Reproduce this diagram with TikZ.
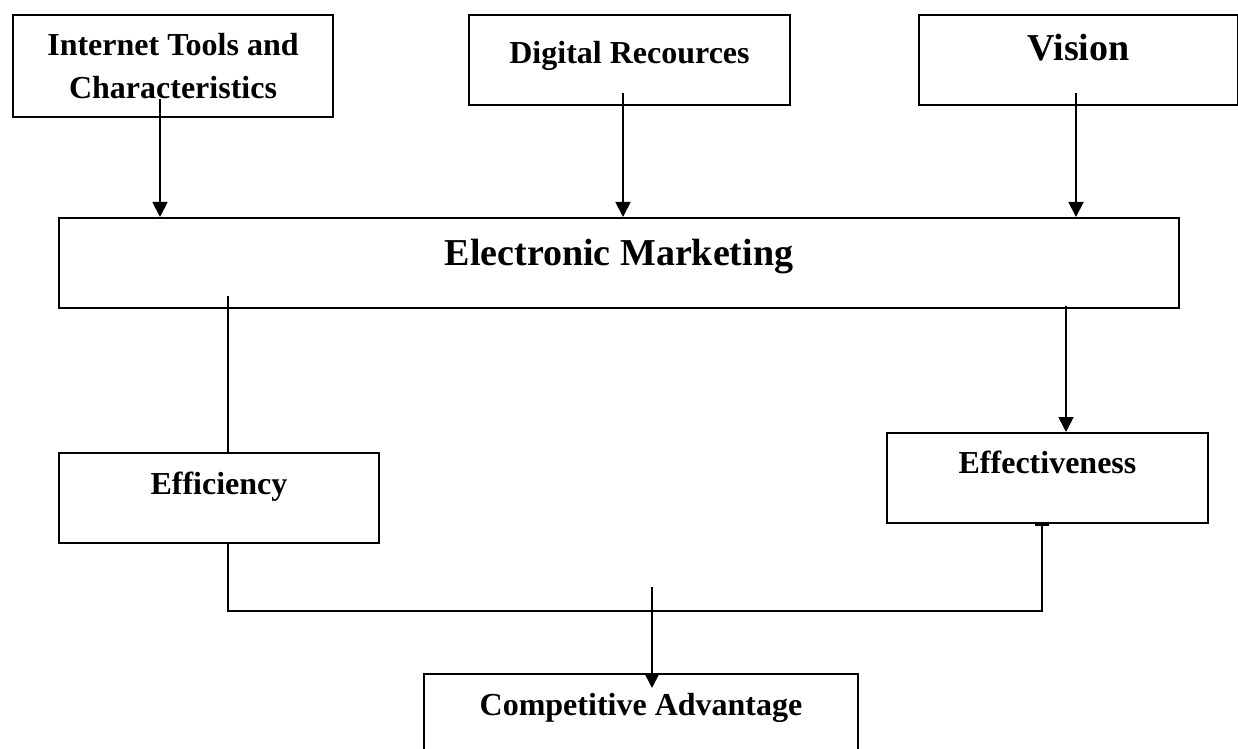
\documentclass[tikz,border=0pt]{standalone}
\usepackage{fontspec}
\setmainfont{Liberation Serif}
\usetikzlibrary{positioning,calc,arrows.meta}

\begin{document}
\begin{tikzpicture}[x=0.5pt,y=-0.5pt,
    box/.style={draw, line width=1pt, anchor=north west, inner sep=0pt,
        font=\bfseries\fontsize{16}{21.5}\selectfont},
    bigbox/.style={box, font=\bfseries\fontsize{19}{23}\selectfont},
    arr/.style={line width=0.9pt, -{Triangle[width=7.5pt,length=7.5pt]}},
    link/.style={line width=0.9pt}]
    \useasboundingbox (0,0) rectangle (1238,749);

    % Top row
    \node[box, align=center, minimum width=160pt, minimum height=51pt] (itc) at (12,14)
        {Internet Tools and\\Characteristics};
    \node[box, minimum width=160.5pt, text height=24.5pt, text depth=20.5pt] (dr) at (468,14)
        {Digital Recources};
    \node[bigbox, minimum width=159.5pt, text height=23pt, text depth=22pt] (vis) at (918,14)
        {Vision};

    % Middle
    \node[bigbox, minimum width=560pt, text height=23.5pt, text depth=21.5pt] (em) at (58,217)
        {Electronic Marketing};
    \node[box, minimum width=160pt, text height=20.5pt, text depth=24.5pt] (eff) at (58,452)
        {Efficiency};
    \node[box, minimum width=160.5pt, text height=20pt, text depth=25pt] (efv) at (886,432)
        {Effectiveness};

    % Bottom
    \node[box, minimum width=217pt, text height=20.5pt, text depth=30pt] (ca) at (423,673)
        {Competitive Advantage};

    % Inputs to electronic marketing
    \foreach \src/\dx/\dy in {itc/148/-19, dr/155/-13, vis/158/-13}{
        \coordinate (\src-out) at ($(\src.south west)+(\dx,\dy)$);
        \draw[arr] (\src-out) -- (\src-out |- em.north);
    }

    % Outputs of electronic marketing
    \coordinate (em-l) at ($(em.south west)+(170,-13)$);
    \draw[link] (em-l) -- (em-l |- eff.north);
    \coordinate (em-r) at ($(em.south west)+(1008,-3)$);
    \draw[arr] (em-r) -- (em-r |- efv.north);

    % Join efficiency and effectiveness
    \coordinate (eff-out) at ($(eff.south west)+(170,0)$);
    \coordinate (merge) at ($(eff-out)+(0,67)$);
    \coordinate (efv-in) at ($(efv.south west)+(156,0)$);
    \draw[link, -{Bar[width=7pt,line width=1.2pt]}] (eff-out) -- (merge) -| (efv-in);

    % Into competitive advantage
    \coordinate (ca-in) at ($(ca.north west)+(229,15)$);
    \draw[arr] ($(ca-in)+(0,-101)$) -- (ca-in);
\end{tikzpicture}
\end{document}
